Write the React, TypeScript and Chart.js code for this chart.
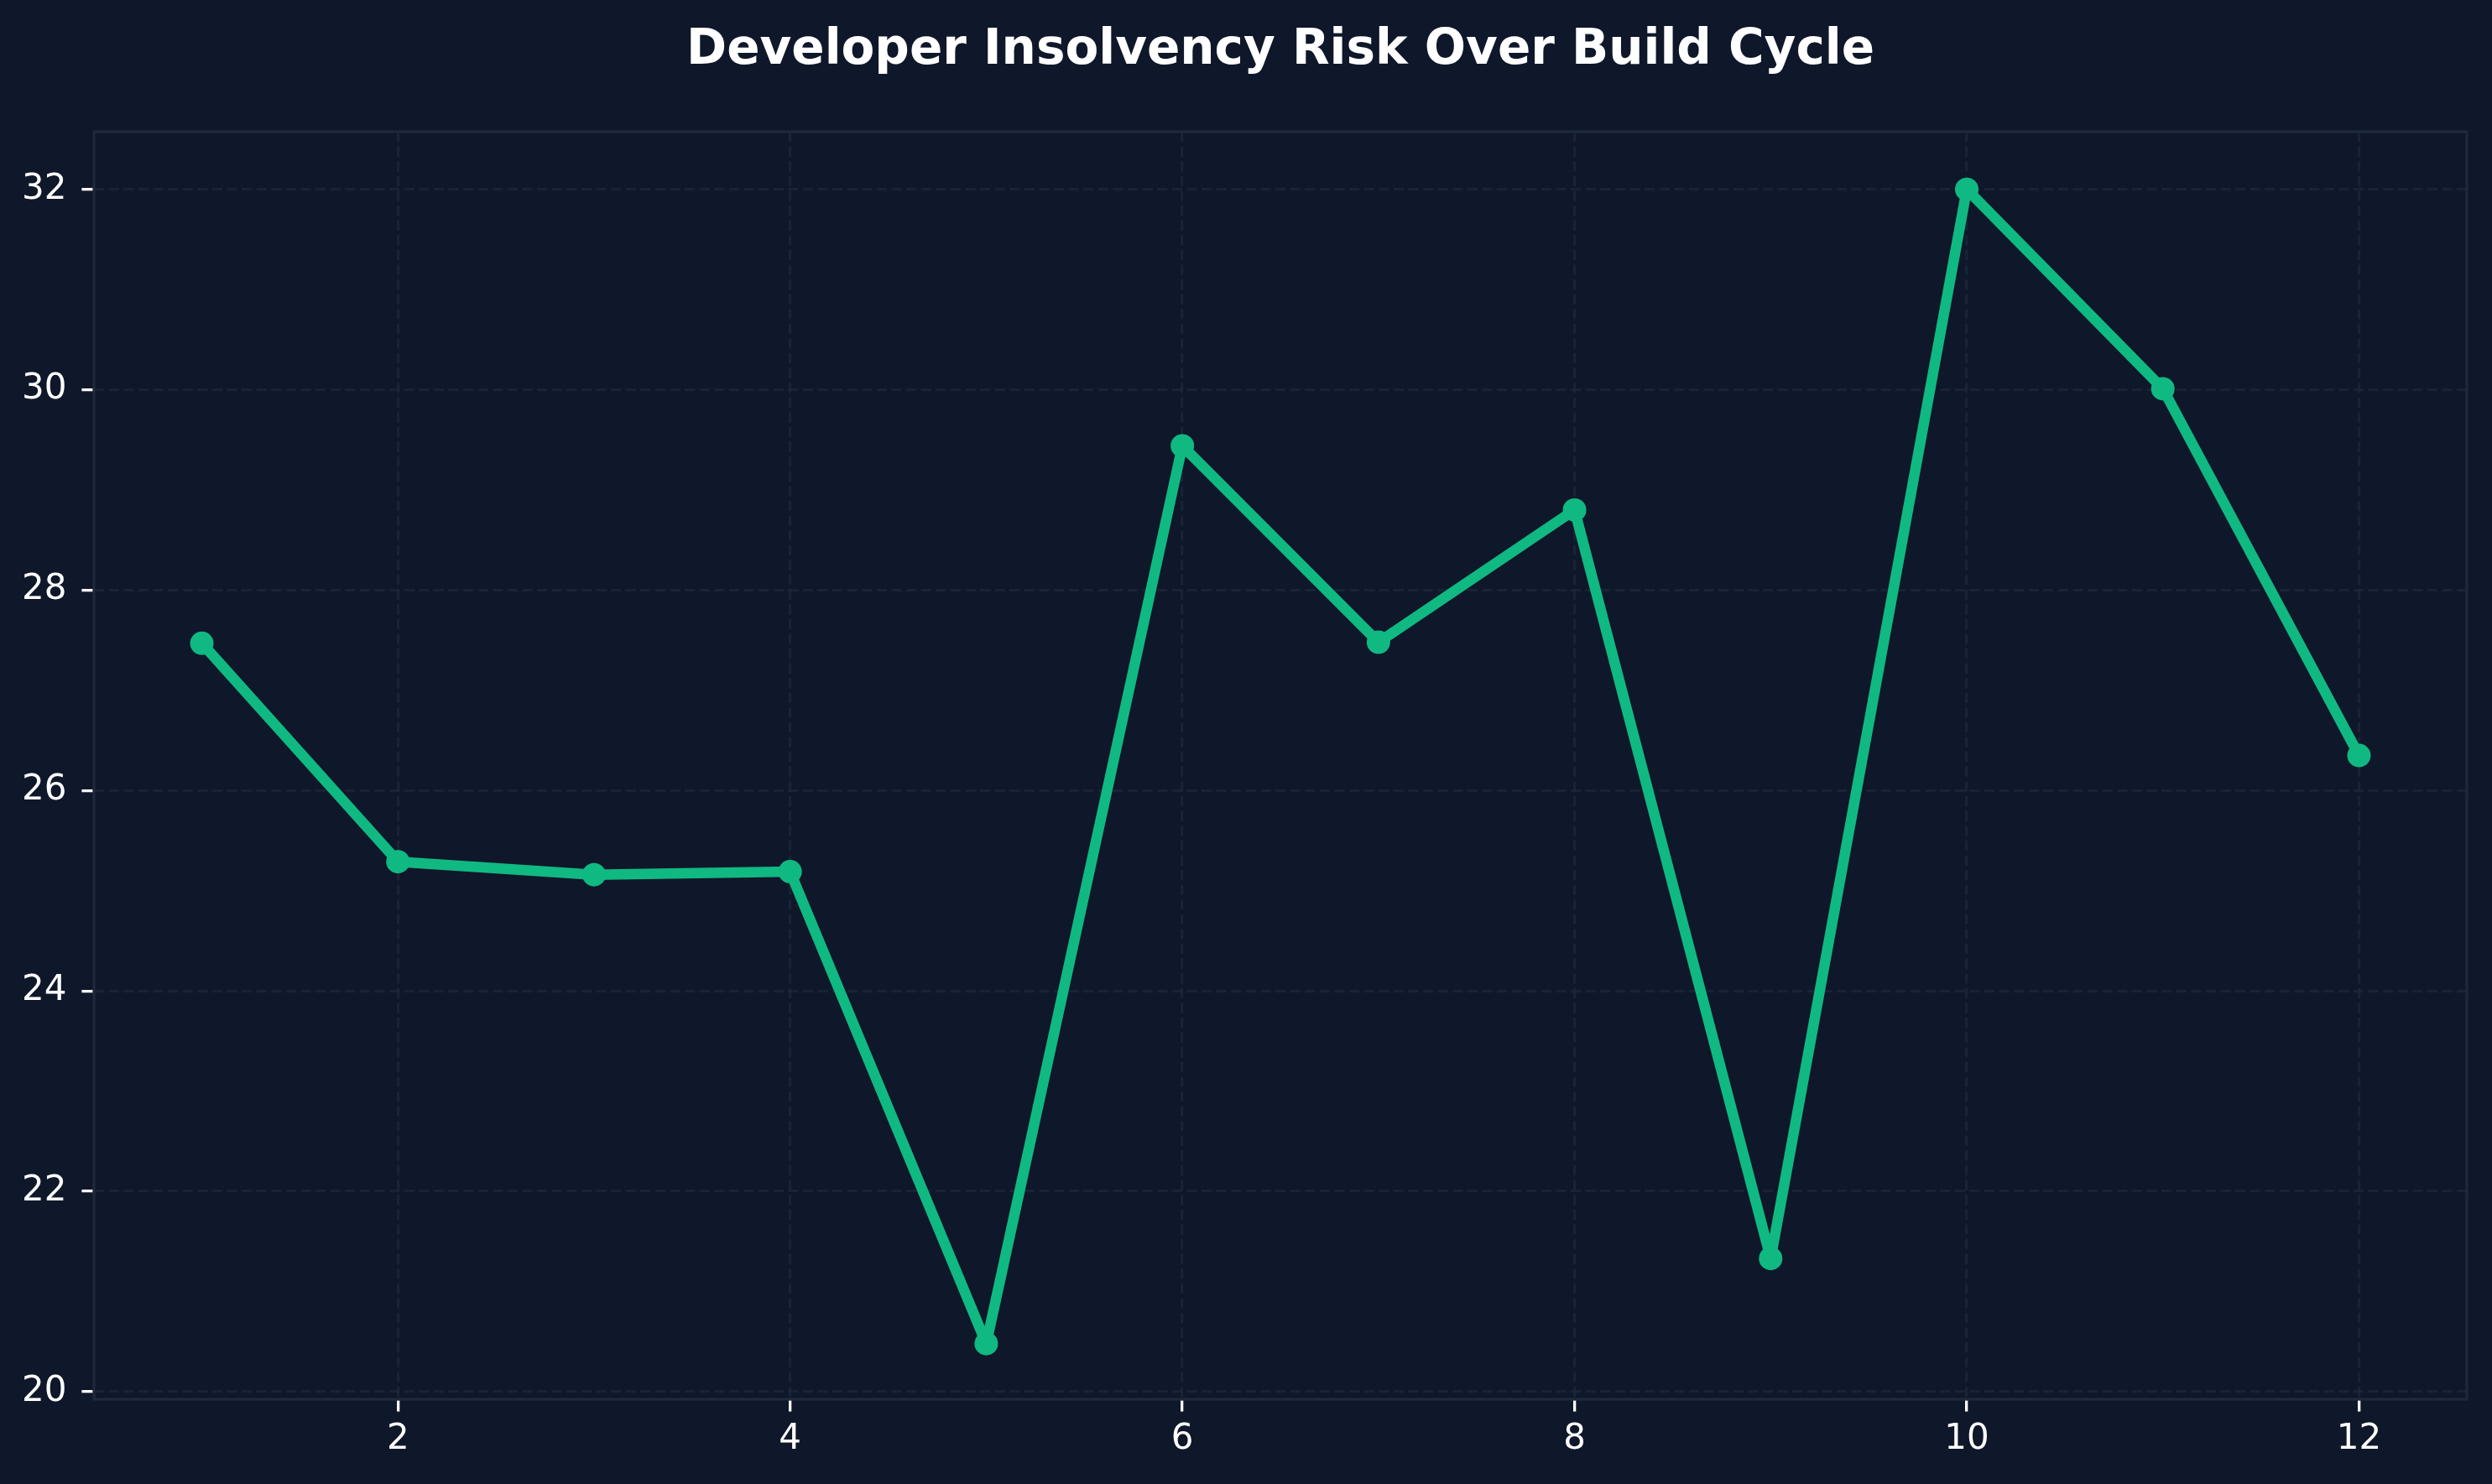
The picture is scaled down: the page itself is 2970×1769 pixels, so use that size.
import { useEffect, useRef } from "react";
import { Chart, registerables } from "chart.js";

Chart.register(...registerables);

// Build cycle steps and the insolvency risk score at each step
const cycleSteps = [1, 2, 3, 4, 5, 6, 7, 8, 9, 10, 11, 12];
const riskValues = [27.47, 25.29, 25.16, 25.19, 20.48, 29.44, 27.48, 28.8, 21.33, 32.0, 30.01, 26.35];

// Axis tick positions
const xTickValues = [2, 4, 6, 8, 10, 12];
const yTickValues = [20, 22, 24, 26, 28, 30, 32];

const chartTitle = "Developer Insolvency Risk Over Build Cycle";

const W = 2970;
const H = 1769;
const BG = "#0f172a";
const FRAME = "#1e293b";
const GRID = "rgba(30, 41, 59, 0.7)";
const LINE = "#10b981";
const TEXT = "#ffffff";
const FONT = "'DejaVu Sans', sans-serif";
const GRID_DASH = [12.3, 5.3];

const backgroundPlugin = {
  id: "pageBackground",
  beforeDraw(chart: any) {
    const { ctx } = chart;
    ctx.save();
    ctx.fillStyle = BG;
    ctx.fillRect(0, 0, chart.width, chart.height);
    ctx.restore();
  },
};

const framePlugin = {
  id: "axesFrame",
  afterDatasetsDraw(chart: any) {
    const { ctx, chartArea } = chart;
    ctx.save();
    ctx.strokeStyle = FRAME;
    ctx.lineWidth = 3.3;
    ctx.strokeRect(
      chartArea.left,
      chartArea.top,
      chartArea.right - chartArea.left,
      chartArea.bottom - chartArea.top
    );
    ctx.restore();
  },
};

const titlePlugin = {
  id: "centerTitle",
  afterDraw(chart: any) {
    const { ctx, chartArea } = chart;
    ctx.save();
    ctx.fillStyle = TEXT;
    ctx.font = `bold 58px ${FONT}`;
    ctx.textAlign = "center";
    ctx.textBaseline = "alphabetic";
    ctx.fillText(chartTitle, (chartArea.left + chartArea.right) / 2, 76);
    ctx.restore();
  },
};

const gridOptions = {
  color: GRID,
  lineWidth: 3.3,
  drawTicks: true,
  tickLength: 14.6,
  tickColor: TEXT,
  tickWidth: 3.3,
  tickBorderDash: [],
};

export default function App() {
  const canvasRef = useRef<HTMLCanvasElement | null>(null);

  useEffect(() => {
    if (!canvasRef.current) return;
    const chart = new Chart(canvasRef.current, {
      type: "line",
      data: {
        datasets: [
          {
            label: "Insolvency risk",
            data: cycleSteps.map((x, i) => ({ x, y: riskValues[i] })),
            borderColor: LINE,
            backgroundColor: LINE,
            borderWidth: 12.5,
            pointRadius: 14,
            pointBorderWidth: 0,
            pointBackgroundColor: LINE,
            borderJoinStyle: "round",
            borderCapStyle: "round",
            tension: 0,
            fill: false,
          },
        ],
      },
      options: {
        responsive: false,
        animation: false,
        devicePixelRatio: 1,
        layout: { padding: { top: 157, right: 30, left: 0, bottom: 0 } },
        plugins: {
          legend: { display: false },
          title: { display: false },
          tooltip: { enabled: false },
        },
        scales: {
          x: {
            type: "linear",
            min: 0.45,
            max: 12.55,
            afterBuildTicks: (scale: any) => {
              scale.ticks = xTickValues.map((v) => ({ value: v }));
            },
            afterFit: (scale: any) => {
              scale.height = 101;
            },
            border: { display: false, dash: GRID_DASH },
            grid: gridOptions,
            ticks: {
              color: TEXT,
              font: { family: FONT, size: 42 },
              padding: 8,
              maxRotation: 0,
              autoSkip: false,
            },
          },
          y: {
            type: "linear",
            min: 19.925,
            max: 32.575,
            afterBuildTicks: (scale: any) => {
              scale.ticks = yTickValues.map((v) => ({ value: v }));
            },
            afterFit: (scale: any) => {
              scale.width = 112;
            },
            border: { display: false, dash: GRID_DASH },
            grid: gridOptions,
            ticks: {
              color: TEXT,
              font: { family: FONT, size: 42 },
              padding: 18,
              autoSkip: false,
            },
          },
        },
      },
      plugins: [backgroundPlugin, framePlugin, titlePlugin],
    } as any);
    return () => chart.destroy();
  }, []);

  return (
    <div style={{ position: "absolute", left: 0, top: 0, width: W, height: H, background: BG }}>
      <canvas ref={canvasRef} width={W} height={H} style={{ display: "block" }} />
    </div>
  );
}
